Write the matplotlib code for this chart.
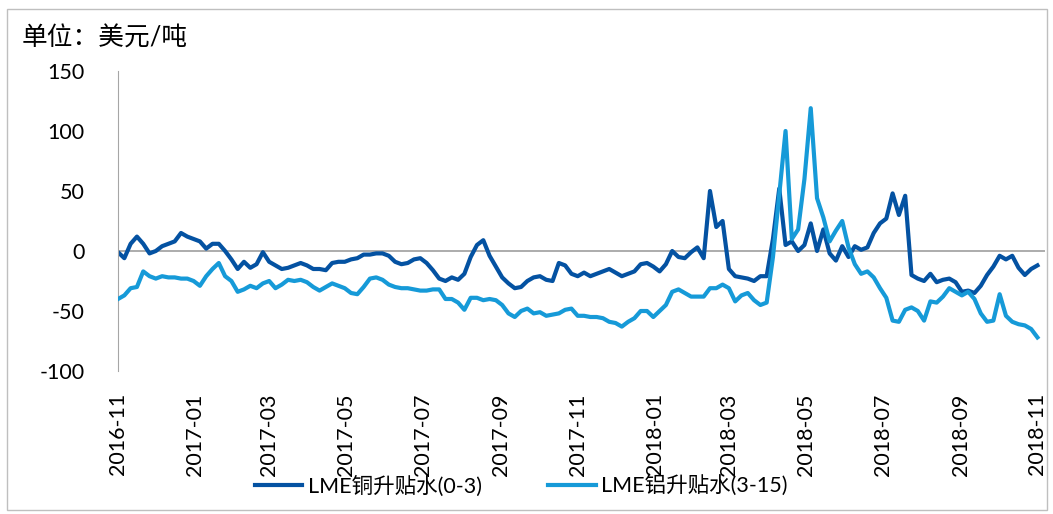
import matplotlib
matplotlib.use('Agg')
import matplotlib.pyplot as plt
import matplotlib.dates as mdates
import pandas as pd
from matplotlib.patches import Rectangle

plt.rcParams['font.family'] = ['Lato', 'Noto Sans CJK SC', 'DejaVu Sans']
plt.rcParams['axes.unicode_minus'] = False

# one reading every 5 days
dates = pd.date_range('2016-11-01', periods=147, freq='5D')

copper = [
    -1, -6, 6, 12, 6, -2, 0, 4, 6, 8,
    15, 12, 10, 8, 2, 6, 6, 0, -7, -15,
    -9, -14, -11, -1, -9, -12, -15, -14, -12, -10,
    -12, -15, -15, -16, -10, -9, -9, -7, -6, -3,
    -3, -2, -2, -4, -9, -11, -10, -7, -6, -10,
    -16, -23, -25, -22, -24, -19, -5, 5, 9, -4,
    -13, -22, -27, -31, -30, -25, -22, -21, -24, -25,
    -10, -12, -19, -21, -18, -21, -19, -17, -15, -18,
    -21, -19, -17, -11, -10, -13, -17, -11, 0, -5,
    -6, -1, 3, -6, 50, 20, 25, -15, -21, -22,
    -23, -25, -21, -21, 10, 52, 5, 8, 0, 5,
    23, 0, 18, -2, -8, 4, -5, 4, 1, 3,
    15, 23, 27, 48, 30, 46, -20, -23, -25, -19,
    -26, -24, -23, -26, -34, -33, -35, -29, -20, -13,
    -4, -7, -4, -14, -20, -15, -12,
]

aluminium = [
    -40, -37, -31, -30, -17, -21, -23, -21, -22, -22,
    -23, -23, -25, -29, -21, -15, -10, -21, -25, -34,
    -32, -29, -31, -27, -25, -31, -28, -24, -25, -24,
    -26, -30, -33, -30, -27, -29, -31, -35, -36, -30,
    -23, -22, -24, -28, -30, -31, -31, -32, -33, -33,
    -32, -32, -40, -40, -43, -49, -39, -39, -41, -40,
    -41, -45, -52, -55, -50, -48, -52, -51, -54, -53,
    -52, -49, -48, -54, -54, -55, -55, -56, -59, -60,
    -63, -59, -56, -50, -50, -55, -50, -45, -34, -32,
    -35, -38, -38, -38, -31, -31, -28, -31, -42, -37,
    -35, -41, -45, -43, -5, 47, 100, 10, 18, 60,
    119, 44, 28, 8, 17, 25, 3, -11, -19, -17,
    -22, -31, -39, -58, -59, -49, -47, -50, -58, -42,
    -43, -38, -31, -34, -37, -34, -40, -52, -59, -58,
    -36, -54, -59, -61, -62, -65, -72,
]

yticks = [-100, -50, 0, 50, 100, 150]

fig = plt.figure(figsize=(10.53, 5.14), dpi=100)
ax = fig.add_axes([0.1121, 0.2782, 0.8803, 0.5837])

ax.axhline(0, color='#a6a6a6', lw=1.3, zorder=1)
ax.plot(dates, copper, color='#0452A2', lw=3.0, label='LME铜升贴水(0-3)', zorder=2)
ax.plot(dates, aluminium, color='#169AD8', lw=3.0, label='LME铝升贴水(3-15)', zorder=3)

ax.set_ylim(-100, 150)
ax.set_yticks(yticks)
ax.set_xlim(pd.Timestamp('2016-11-01'), pd.Timestamp('2018-11-07'))
ax.xaxis.set_major_locator(mdates.MonthLocator(bymonth=(1, 3, 5, 7, 9, 11)))
ax.xaxis.set_major_formatter(mdates.DateFormatter('%Y-%m'))

for s in ['top', 'right', 'bottom']:
    ax.spines[s].set_visible(False)
ax.spines['left'].set_color('#a6a6a6')
ax.spines['left'].set_linewidth(0.8)

ax.tick_params(axis='y', length=0, pad=24, labelsize=15.5, colors='black')
ax.tick_params(axis='x', length=0, pad=16, labelsize=15.5, colors='black', labelrotation=90)

fig.legend(loc='center', bbox_to_anchor=(0.495, 0.054), ncol=2, frameon=False,
           fontsize=15.5, handlelength=2.2, handletextpad=0.25, columnspacing=3.1)

fig.text(22 / 1053, 1 - 38 / 514, '单位：美元/吨', fontsize=18.5, ha='left', va='center')

fig.add_artist(Rectangle((0.0066, 0.008), 0.988, 0.9745, transform=fig.transFigure,
                         fill=False, ec='#bfbfbf', lw=1))

fig.savefig('out.png', dpi=100)
